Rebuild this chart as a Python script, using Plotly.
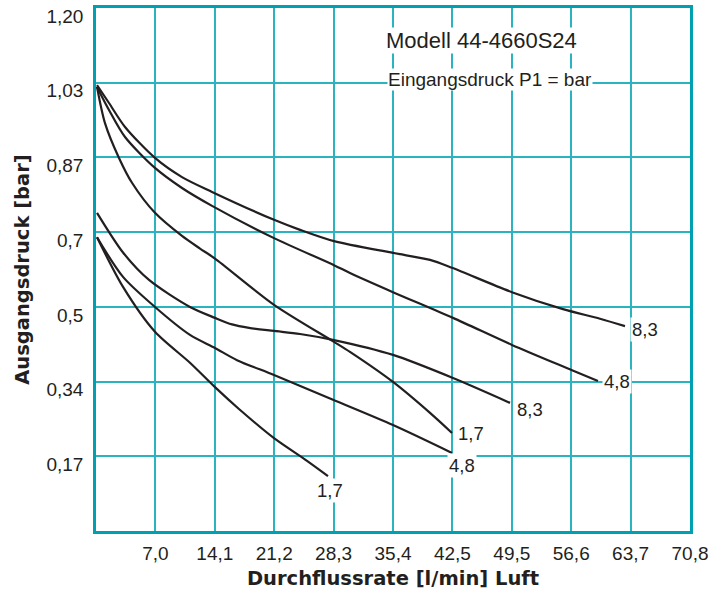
import plotly.graph_objects as go

# ---- data ----
x_tick_vals = [7.08, 14.16, 21.24, 28.32, 35.40, 42.48, 49.56, 56.64, 63.72, 70.80]
x_tick_text = ["7,0", "14,1", "21,2", "28,3", "35,4", "42,5", "49,5", "56,6", "63,7", "70,8"]
y_tick_vals = [0.1714, 0.3429, 0.5143, 0.6857, 0.8571, 1.0286, 1.2000]
y_tick_text = ["0,17", "0,34", "0,5", "0,7", "0,87", "1,03", "1,20"]

# upper group (start near 1,03 bar)
a_x = [0.12, 1.55, 3.46, 7.03, 10.25, 13.83, 21.22, 24.32, 28.37, 35.40, 39.81, 42.43, 49.58, 55.66, 60.07, 63.05]
a_y = [1.023, 0.982, 0.927, 0.856, 0.812, 0.778, 0.714, 0.691, 0.665, 0.638, 0.622, 0.604, 0.548, 0.509, 0.487, 0.470]

b_x = [0.12, 1.55, 3.46, 7.03, 10.25, 13.83, 21.22, 28.37, 30.27, 35.40, 42.55, 49.58, 56.74, 59.83]
b_y = [1.019, 0.966, 0.904, 0.833, 0.787, 0.746, 0.672, 0.610, 0.592, 0.548, 0.489, 0.427, 0.369, 0.344]

c_x = [0.12, 1.07, 2.74, 4.29, 7.03, 10.25, 12.40, 14.18, 21.22, 28.37, 30.27, 35.40, 39.81, 42.43]
c_y = [1.019, 0.936, 0.856, 0.799, 0.730, 0.677, 0.648, 0.625, 0.519, 0.434, 0.411, 0.342, 0.271, 0.225]

# lower group
d_x = [0.12, 3.22, 6.32, 11.20, 14.18, 16.21, 18.24, 21.22, 24.32, 28.37, 35.40, 42.55, 49.35]
d_y = [0.730, 0.639, 0.576, 0.514, 0.489, 0.474, 0.466, 0.459, 0.452, 0.438, 0.404, 0.351, 0.294]

e_x = [0.12, 3.22, 7.03, 11.20, 14.18, 16.81, 21.22, 28.25, 35.40, 42.43]
e_y = [0.674, 0.583, 0.514, 0.450, 0.420, 0.392, 0.358, 0.301, 0.243, 0.179]

f_x = [0.12, 3.22, 7.03, 11.20, 14.18, 17.04, 21.22, 25.15, 27.65]
f_y = [0.674, 0.560, 0.457, 0.386, 0.330, 0.280, 0.213, 0.161, 0.126]

curves = [(a_x, a_y), (b_x, b_y), (c_x, c_y), (d_x, d_y), (e_x, e_y), (f_x, f_y)]

# curve labels: text, x, y, xanchor
label_text = ["8,3", "4,8", "1,7", "8,3", "4,8", "1,7"]
label_x = [63.6, 60.3, 42.9, 49.9, 43.6, 27.9]
label_y = [0.462, 0.344, 0.223, 0.278, 0.151, 0.092]
label_anchor = ["left", "left", "left", "left", "center", "center"]

LINE = "#231f20"
GRID = "#2bb3bf"
AXIS = "#00a0b1"
TXT = "#231f20"

fig = go.Figure()
for cx, cy in curves:
    fig.add_trace(go.Scatter(x=cx, y=cy, mode="lines",
                             line=dict(color=LINE, width=2.2, shape="spline", smoothing=0.8),
                             showlegend=False, hoverinfo="skip"))

for t, lx, ly, anc in zip(label_text, label_x, label_y, label_anchor):
    fig.add_annotation(x=lx, y=ly, text=t, showarrow=False, xanchor=anc, yanchor="middle",
                       font=dict(family="Liberation Sans, Arial", size=18.5, color=TXT),
                       bgcolor="white", borderpad=1)

fig.add_annotation(x=34.5, y=1.1255, text="Modell 44-4660S24", showarrow=False,
                   xanchor="left", yanchor="middle",
                   font=dict(family="Liberation Sans, Arial", size=22, color=TXT),
                   bgcolor="white", borderpad=0)
fig.add_annotation(x=34.7, y=1.035, text="Eingangsdruck P1 = bar", showarrow=False,
                   xanchor="left", yanchor="middle",
                   font=dict(family="Liberation Sans, Arial", size=19, color=TXT),
                   bgcolor="white", borderpad=0)

fig.update_layout(
    width=723, height=594,
    margin=dict(l=96, r=33, t=8, b=63),
    paper_bgcolor="white", plot_bgcolor="white",
    showlegend=False,
)
fig.update_xaxes(
    range=[0, 70.8], tickvals=x_tick_vals, ticktext=x_tick_text,
    showgrid=True, gridcolor=GRID, gridwidth=2,
    showline=True, linecolor=AXIS, linewidth=2.5, mirror=True,
    zeroline=False, ticks="", ticklabelstandoff=3, automargin=False,
    ticklabeloverflow="allow",
    tickfont=dict(family="Liberation Sans, Arial", size=19, color=TXT),
    title=dict(text="<b>Durchflussrate [l/min] Luft</b>", standoff=9,
               font=dict(family="DejaVu Sans", size=19.5, color=TXT)),
)
fig.update_yaxes(
    range=[0, 1.2], tickvals=y_tick_vals, ticktext=y_tick_text,
    showgrid=True, gridcolor=GRID, gridwidth=2,
    showline=True, linecolor=AXIS, linewidth=2.5, mirror=True,
    zeroline=False, ticks="", ticklabelstandoff=6, ticklabelshift=8, automargin=False,
    ticklabeloverflow="allow",
    tickfont=dict(family="Liberation Sans, Arial", size=19, color=TXT),
    title=dict(text="<b>Ausgangsdruck [bar]</b>", standoff=12,
               font=dict(family="DejaVu Sans", size=19.5, color=TXT)),
)

fig.write_html("out.html", config={"displayModeBar": False},
               post_script="document.body.style.margin='0';")
